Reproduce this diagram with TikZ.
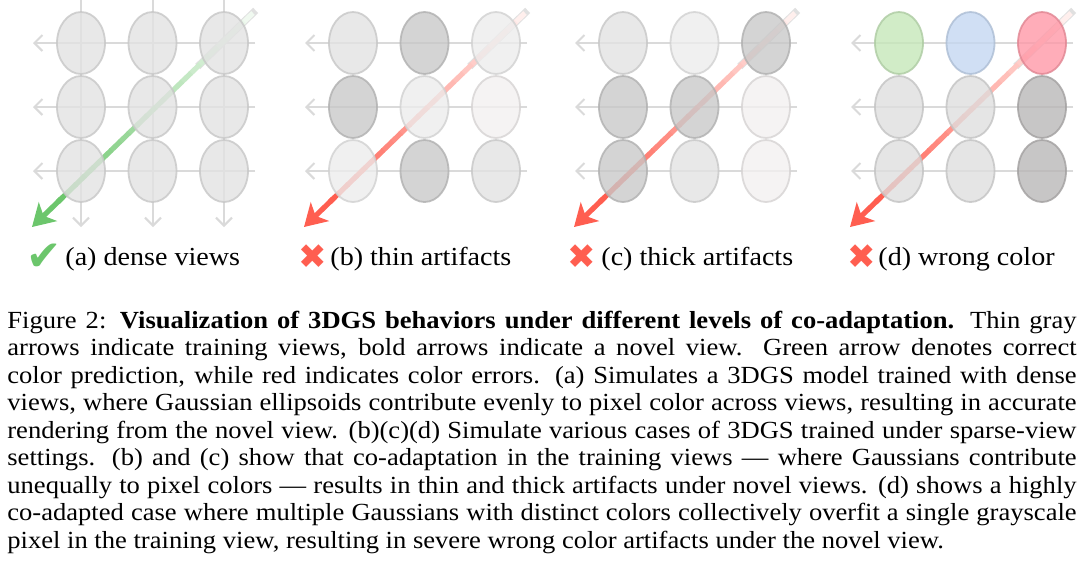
\documentclass[tikz,border=0pt]{standalone}
\usepackage{graphicx}
\usepackage{fontspec}
\setmainfont{Liberation Serif}
\newfontfamily\markfont{DejaVu Sans}
\usetikzlibrary{shapes.geometric,arrows.meta,calc}

\definecolor{viewGray}{HTML}{DADADA}
\definecolor{gsMid}{HTML}{E2E2E2}
\definecolor{gsDark}{HTML}{C8C8C8}
\definecolor{gsLight}{HTML}{EDEDED}
\definecolor{gsPale}{HTML}{F3F0F0}
\definecolor{gsGrey}{HTML}{DEDEDE}
\definecolor{gsShade}{HTML}{B8B6B6}
\definecolor{gsGreen}{HTML}{C5E7B8}
\definecolor{gsBlue}{HTML}{C3D7F1}
\definecolor{gsRed}{HTML}{FF97A6}
\definecolor{okGreen}{HTML}{6CC66C}
\definecolor{badRed}{HTML}{FF5E50}

\newcommand{\capline}[1]{\scalebox{1.08}[1]{\makebox[495pt][s]{#1}}}
\newcommand{\caplast}[1]{\scalebox{1.08}[1]{#1}}

\tikzset{
  gs/.style={ellipse, draw=#1!88!black, line width=0.9pt, fill=#1, fill opacity=0.78,
    draw opacity=0.8, minimum width=24pt, minimum height=31pt, inner sep=0pt},
  trainview/.style={draw=viewGray, line width=1pt, -{Straight Barb[length=4pt,width=8pt]}},
  novelhead/.style={line width=2.6pt, -{Stealth[length=11pt,width=13pt,inset=3pt]}},
  verdict/.style={font=\markfont\fontsize{17}{17}\selectfont, inner sep=0pt},
  sublabel/.style={anchor=base west, inner sep=0pt, font=\fontsize{13}{15}\selectfont},
  capline/.style={anchor=base west, inner sep=0pt, font=\fontsize{12.3}{14}\selectfont}
}

\begin{document}
\begin{tikzpicture}[x=0.5pt, y=-0.5pt]
\path[use as bounding box, fill=white] (0,0) rectangle (1080,574);

% vertical training views, only in (a)
\foreach \x [count=\cidx] in {81,153,224}{
  \coordinate (a-top\cidx) at (\x,0);
  \coordinate (a-bot\cidx) at (\x,227);
  \draw[trainview] (a-top\cidx) -- (a-bot\cidx);
}

\foreach \pn/\dx/\tone/\fills in {
    a/0/okGreen/{gsMid,gsMid,gsMid,gsMid,gsMid,gsMid,gsMid,gsMid,gsMid},
    b/272/badRed/{gsMid,gsDark,gsLight,gsDark,gsLight,gsPale,gsLight,gsDark,gsMid},
    c/542/badRed/{gsMid,gsLight,gsDark,gsDark,gsDark,gsPale,gsDark,gsMid,gsPale},
    d/818/badRed/{gsGreen,gsBlue,gsRed,gsGrey,gsGrey,gsShade,gsGrey,gsGrey,gsShade}}{
  \begin{scope}[shift={(\dx,0)}]
    % training views
    \foreach \y [count=\r] in {43,107,171}{
      \coordinate (\pn-in\r) at (255,\y);
      \coordinate (\pn-out\r) at (33,\y);
      \draw[trainview] (\pn-in\r) -- (\pn-out\r);
    }
    % novel view
    \coordinate (\pn-src) at (253,13);
    \coordinate (\pn-dst) at (32,227);
    \draw[line width=3.6pt, color=black!12] ($(\pn-src)!-0.012!(\pn-dst)$) -- ($(\pn-src)!0.25!(\pn-dst)$);
    \foreach \i [evaluate=\i as \p using {int(10+90*\i/21)},
                 evaluate=\i as \u using {\i/25},
                 evaluate=\i as \v using {(\i+1.1)/25}] in {0,...,21}
      \draw[line width=2.6pt, color=\tone!\p!white] ($(\pn-src)!\u!(\pn-dst)$) -- ($(\pn-src)!\v!(\pn-dst)$);
    \draw[novelhead, color=\tone] ($(\pn-src)!0.86!(\pn-dst)$) -- (\pn-dst);
    % gaussians
    \foreach \c [count=\k from 0] in \fills{
      \pgfmathtruncatemacro\row{\k/3}
      \pgfmathtruncatemacro\col{mod(\k,3)}
      \node[gs=\c] (\pn-g\row\col) at (81+71.5*\col, 43+64*\row) {};
    }
  \end{scope}
}

% sub-figure labels
\node[verdict, text=okGreen, font=\markfont\fontsize{21}{21}\selectfont] (a-mark) at (44,257) {✔};
\node[sublabel] (a-name) at (65,265) {\caplast{(a) dense views}};
\node[verdict, text=badRed] (b-mark) at (313,257) {✖};
\node[sublabel] (b-name) at (330,265) {\caplast{(b) thin artifacts}};
\node[verdict, text=badRed] (c-mark) at (582,257) {✖};
\node[sublabel] (c-name) at (601,265) {\caplast{(c) thick artifacts}};
\node[verdict, text=badRed] (d-mark) at (862,257) {✖};
\node[sublabel] (d-name) at (878,265) {\caplast{(d) wrong color}};

% caption
\node[capline] (cap1) at (7,328) {\capline{Figure 2: \textbf{Visualization of 3DGS behaviors under different levels of co-adaptation.} Thin gray}};
\node[capline] (cap2) at (7,355.5) {\capline{arrows indicate training views, bold arrows indicate a novel view.  Green arrow denotes correct}};
\node[capline] (cap3) at (7,383) {\capline{color prediction, while red indicates color errors. (a) Simulates a 3DGS model trained with dense}};
\node[capline] (cap4) at (7,410.5) {\capline{views, where Gaussian ellipsoids contribute evenly to pixel color across views, resulting in accurate}};
\node[capline] (cap5) at (7,438) {\capline{rendering from the novel view. (b)(c)(d) Simulate various cases of 3DGS trained under sparse-view}};
\node[capline] (cap6) at (7,465.5) {\capline{settings. (b) and (c) show that co-adaptation in the training views --- where Gaussians contribute}};
\node[capline] (cap7) at (7,493) {\capline{unequally to pixel colors --- results in thin and thick artifacts under novel views. (d) shows a highly}};
\node[capline] (cap8) at (7,520.5) {\capline{co-adapted case where multiple Gaussians with distinct colors collectively overfit a single grayscale}};
\node[capline] (cap9) at (7,548) {\caplast{pixel in the training view, resulting in severe wrong color artifacts under the novel view.}};
\end{tikzpicture}
\end{document}
